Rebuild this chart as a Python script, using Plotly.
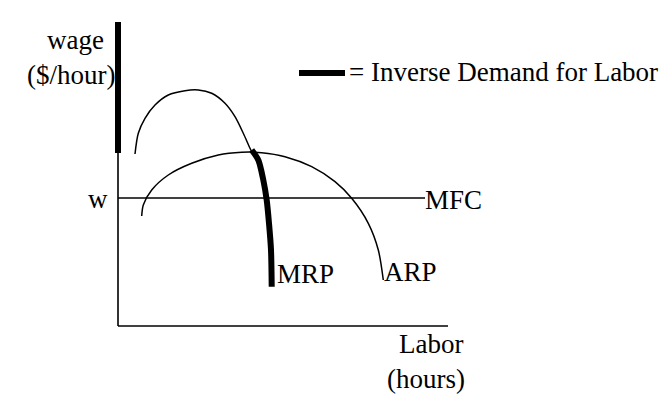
import plotly.graph_objects as go

# Data (labour on x, wage on y)
mrp_x = [17, 20.3, 27, 37, 50.3, 67, 80.3, 93.7, 107, 117, 125.3, 132, 133.7]
mrp_y = [172, 192.7, 207.7, 221, 231, 235.3, 236, 232.7, 222.7, 209.3, 192.7, 177.7, 174.3]

demand_x = [133.7, 140.3, 145.3, 148.7, 151, 153, 153.7]
demand_y = [176, 166, 146, 126, 102.7, 76, 39.3]

vert_demand_x = [0, 0]
vert_demand_y = [173, 304]

arp_x = [23.7, 25.3, 33.7, 50.3, 73.7, 100.3, 123.7, 143.7, 167, 193.7, 217, 233.7, 250.3, 260.3, 265.3]
arp_y = [110, 121, 136, 151, 162.7, 171, 173.7, 173.3, 169.3, 159.3, 144.3, 127.7, 102.7, 76, 46]

mfc_x = [0, 307]
mfc_y = [128, 128]

x_axis_len = 330
y_axis_len = 304

legend_x = [181, 227]
legend_y = [253, 253]

FONT = "Liberation Serif, Times New Roman, serif"
FS = 27

fig = go.Figure()

# axes
fig.add_trace(go.Scatter(x=[0, x_axis_len], y=[0, 0], mode="lines",
                         line=dict(color="black", width=1.6), hoverinfo="skip"))
fig.add_trace(go.Scatter(x=[0, 0], y=[0, y_axis_len], mode="lines",
                         line=dict(color="black", width=1.6), hoverinfo="skip"))

# MFC
fig.add_trace(go.Scatter(x=mfc_x, y=mfc_y, mode="lines",
                         line=dict(color="black", width=1.5)))
# ARP
fig.add_trace(go.Scatter(x=arp_x, y=arp_y, mode="lines",
                         line=dict(color="black", width=1.5, shape="spline", smoothing=0.8)))
# MRP (thin part)
fig.add_trace(go.Scatter(x=mrp_x, y=mrp_y, mode="lines",
                         line=dict(color="black", width=1.5, shape="spline", smoothing=0.8)))
# Inverse demand (thick)
fig.add_trace(go.Scatter(x=vert_demand_x, y=vert_demand_y, mode="lines",
                         line=dict(color="black", width=6)))
fig.add_trace(go.Scatter(x=demand_x, y=demand_y, mode="lines",
                         line=dict(color="black", width=6, shape="spline", smoothing=0.8)))
# legend sample
fig.add_trace(go.Scatter(x=legend_x, y=legend_y, mode="lines",
                         line=dict(color="black", width=6)))

def label(text, x, y, xanchor="left"):
    fig.add_annotation(x=x, y=y, text=text, showarrow=False, xanchor=xanchor,
                       yanchor="middle", font=dict(family=FONT, size=FS, color="black"))

label("wage", -43, 286, "center")
label("($/hour)", -47, 251, "center")
label("w", -20, 127, "center")
label("MFC", 305, 126)
label("MRP", 157, 52)
label("ARP", 264, 54)
label("Labor", 313, -18, "center")
label("(hours)", 308, -53, "center")
label("= Inverse Demand for Labor", 229, 254)

fig.update_layout(
    width=670, height=398,
    margin=dict(l=0, r=0, t=0, b=0),
    paper_bgcolor="white", plot_bgcolor="white",
    showlegend=False,
    xaxis=dict(range=[-118, 552], visible=False, fixedrange=True),
    yaxis=dict(range=[-72, 326], visible=False, fixedrange=True),
)

fig.write_html("out.html", config={"displayModeBar": False},
               post_script="document.body.style.margin='0';document.body.style.overflow='hidden';")
